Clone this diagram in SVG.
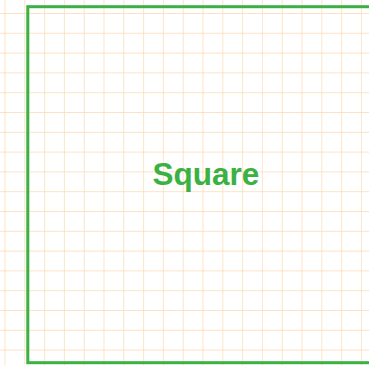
<svg xmlns="http://www.w3.org/2000/svg" width="369" height="365" viewBox="0 0 369 365">
  <defs>
    <pattern id="grid" x="4.5" y="-6.8" width="19.8" height="19.8" patternUnits="userSpaceOnUse">
      <path d="M0 0 V19.8 M0 0 H19.8" fill="none" stroke="#fdd9b4" stroke-width="1.4"/>
    </pattern>
  </defs>
  <style>
    .sq { fill: none; stroke: #3bb143; stroke-width: 3; }
    .lbl { font-family: "Liberation Sans", Arial, sans-serif; font-weight: bold; font-size: 31.5px; fill: #3bb143; text-anchor: middle; }
  </style>
  <rect width="369" height="365" fill="#ffffff"/>
  <rect width="369" height="365" fill="url(#grid)"/>
  <g id="connectors"></g>
  <g id="square">
    <rect class="sq" x="27.8" y="6.7" width="356" height="356"/>
    <text class="lbl" x="206" y="184.5">Square</text>
  </g>
</svg>
